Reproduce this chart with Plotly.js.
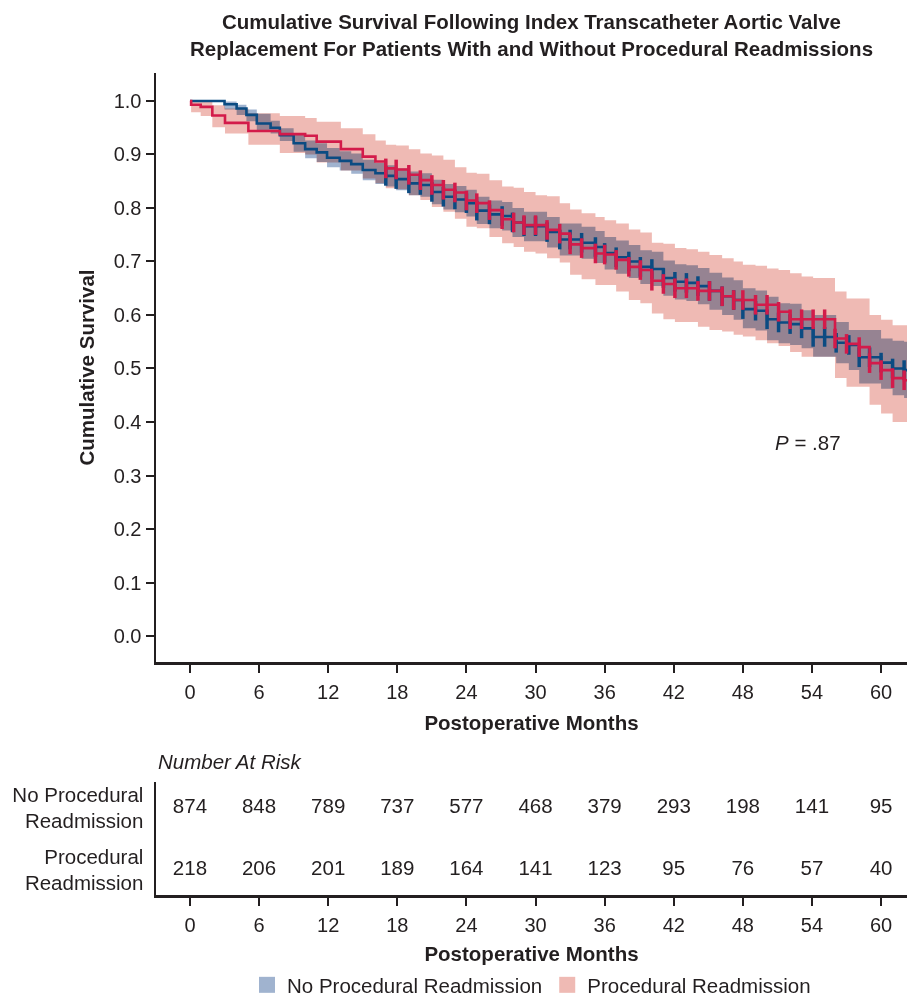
<!DOCTYPE html>
<html>
<head>
<meta charset="utf-8">
<script src="https://cdn.plot.ly/plotly-3.0.1.min.js"></script>
<style>
  html, body { margin: 0; padding: 0; background: #fff; }
  #chart { width: 907px; height: 999px; }
  .js-fill { mix-blend-mode: multiply; }
</style>
</head>
<body>
<div id="chart"></div>
<script>
// ---- No Procedural Readmission (Kaplan-Meier step data) ----
var noTimes = [0, 3.0, 4.05, 4.9, 5.8, 7.0, 7.8, 9.0, 10.0, 11.0, 11.9, 13.0, 14.0, 15.0, 16.1, 17.0, 17.9, 19.0, 20.0, 21.0, 22.0, 23.0, 24.0, 24.9, 26.0, 27.1, 28.0, 29.0, 31.0, 32.1, 34.0, 35.2, 36.0, 37.0, 38.1, 39.1, 40.1, 41.1, 42.1, 43.1, 44.1, 45.1, 46.2, 47.2, 48.0, 49.1, 50.1, 51.1, 52.1, 53.1, 54.1, 56.1, 57.2, 58.1, 60.0, 61.0, 62.0, 62.5];
var noSurv  = [1.000, 0.994, 0.986, 0.974, 0.958, 0.950, 0.936, 0.921, 0.910, 0.904, 0.894, 0.888, 0.882, 0.871, 0.865, 0.860, 0.854, 0.846, 0.843, 0.830, 0.821, 0.816, 0.809, 0.795, 0.788, 0.785, 0.773, 0.766, 0.755, 0.741, 0.735, 0.727, 0.716, 0.708, 0.700, 0.690, 0.686, 0.669, 0.662, 0.660, 0.654, 0.645, 0.635, 0.628, 0.611, 0.608, 0.592, 0.586, 0.583, 0.575, 0.559, 0.548, 0.544, 0.521, 0.511, 0.500, 0.497, 0.497];
var noLower = [1.000, 0.984, 0.974, 0.962, 0.945, 0.939, 0.925, 0.905, 0.893, 0.886, 0.876, 0.870, 0.864, 0.852, 0.845, 0.840, 0.833, 0.824, 0.821, 0.807, 0.797, 0.792, 0.784, 0.770, 0.762, 0.758, 0.746, 0.738, 0.726, 0.711, 0.705, 0.697, 0.685, 0.677, 0.669, 0.658, 0.654, 0.636, 0.629, 0.626, 0.620, 0.610, 0.600, 0.591, 0.575, 0.571, 0.553, 0.547, 0.544, 0.538, 0.522, 0.510, 0.497, 0.472, 0.462, 0.450, 0.445, 0.445];
var noUpper = [1.000, 0.999, 0.993, 0.984, 0.976, 0.963, 0.949, 0.937, 0.926, 0.921, 0.912, 0.906, 0.902, 0.890, 0.884, 0.880, 0.874, 0.868, 0.865, 0.853, 0.845, 0.841, 0.834, 0.821, 0.814, 0.811, 0.800, 0.793, 0.783, 0.771, 0.765, 0.757, 0.746, 0.739, 0.731, 0.721, 0.718, 0.702, 0.695, 0.693, 0.688, 0.679, 0.670, 0.665, 0.650, 0.646, 0.634, 0.622, 0.621, 0.609, 0.600, 0.587, 0.572, 0.572, 0.556, 0.552, 0.550, 0.550];
var noCensor = [17.0, 17.9, 19.0, 20.0, 21.0, 22.0, 23.0, 24.0, 24.9, 26.0, 27.1, 28.0, 29.0, 30.0, 31.0, 32.1, 33.0, 34.0, 35.2, 36.0, 37.0, 38.1, 39.1, 40.1, 41.1, 42.1, 43.1, 44.1, 45.1, 46.2, 47.2, 48.0, 49.1, 50.1, 51.1, 52.1, 53.1, 54.1, 55.1, 56.1, 57.2, 58.1, 59.0, 60.0, 61.0, 62.0];

// ---- Procedural Readmission ----
var prTimes = [0, 0.1, 0.93, 1.94, 3.04, 5.07, 7.8, 10.0, 11.0, 13.1, 15.0, 16.1, 17.0, 17.9, 19.0, 20.0, 21.0, 22.0, 23.0, 24.0, 24.9, 26.0, 27.1, 28.1, 29.0, 30.0, 31.0, 32.1, 33.0, 34.0, 35.2, 36.0, 37.0, 38.1, 39.1, 40.1, 41.1, 42.1, 43.1, 44.1, 45.1, 46.2, 47.2, 48.0, 49.1, 50.1, 51.1, 52.1, 53.1, 54.1, 56.0, 57.0, 58.1, 59.0, 60.0, 61.0, 62.0, 62.5];
var prSurv  = [1.000, 0.993, 0.989, 0.973, 0.959, 0.944, 0.938, 0.935, 0.924, 0.910, 0.896, 0.887, 0.874, 0.872, 0.862, 0.852, 0.843, 0.834, 0.829, 0.814, 0.809, 0.796, 0.779, 0.773, 0.768, 0.768, 0.759, 0.752, 0.732, 0.725, 0.715, 0.713, 0.703, 0.690, 0.684, 0.664, 0.658, 0.650, 0.650, 0.645, 0.645, 0.635, 0.628, 0.628, 0.619, 0.619, 0.606, 0.592, 0.592, 0.592, 0.556, 0.546, 0.540, 0.510, 0.497, 0.482, 0.478, 0.478];
var prLower = [1.000, 0.979, 0.972, 0.951, 0.939, 0.918, 0.903, 0.900, 0.885, 0.870, 0.855, 0.846, 0.837, 0.835, 0.824, 0.815, 0.802, 0.793, 0.780, 0.765, 0.762, 0.746, 0.734, 0.727, 0.718, 0.715, 0.706, 0.698, 0.675, 0.667, 0.656, 0.656, 0.644, 0.628, 0.622, 0.603, 0.592, 0.587, 0.587, 0.578, 0.572, 0.569, 0.563, 0.560, 0.553, 0.547, 0.542, 0.531, 0.522, 0.522, 0.482, 0.466, 0.466, 0.432, 0.416, 0.400, 0.400, 0.400];
var prUpper = [1.000, 1.000, 0.998, 0.992, 0.986, 0.977, 0.972, 0.968, 0.961, 0.949, 0.938, 0.926, 0.918, 0.917, 0.910, 0.902, 0.898, 0.890, 0.876, 0.866, 0.864, 0.852, 0.840, 0.838, 0.830, 0.824, 0.822, 0.809, 0.797, 0.790, 0.783, 0.777, 0.771, 0.760, 0.754, 0.735, 0.733, 0.725, 0.723, 0.718, 0.712, 0.706, 0.700, 0.694, 0.692, 0.687, 0.684, 0.678, 0.672, 0.669, 0.644, 0.631, 0.631, 0.600, 0.591, 0.581, 0.581, 0.581];
var prCensor = [17.0, 17.9, 19.0, 20.0, 21.0, 22.0, 23.0, 24.0, 24.9, 26.0, 27.1, 28.1, 29.0, 30.0, 31.0, 32.1, 33.0, 34.0, 35.2, 36.0, 37.0, 38.1, 39.1, 40.1, 41.1, 42.1, 43.1, 44.1, 45.1, 46.2, 47.2, 48.0, 49.1, 50.1, 51.1, 52.1, 53.1, 54.1, 55.1, 56.0, 57.0, 58.1, 59.0, 60.0, 61.0, 62.0];

// ---- Number at risk table ----
var riskMonths = [0, 6, 12, 18, 24, 30, 36, 42, 48, 54, 60];
var riskNo = [874, 848, 789, 737, 577, 468, 379, 293, 198, 141, 95];
var riskPr = [218, 206, 201, 189, 164, 141, 123, 95, 76, 57, 40];
var groupNames = ['No Procedural Readmission', 'Procedural Readmission'];
var rowLabels = ['Procedural<br>Readmission', 'No Procedural<br>Readmission'];
var yTicks = [0, 0.1, 0.2, 0.3, 0.4, 0.5, 0.6, 0.7, 0.8, 0.9, 1.0];
var pText = '<i>P</i> = .87';

// ---- styling ----
var FONT = '"Liberation Sans", Arial, Helvetica, sans-serif';
var TXT = '#231f20';
var BLUE = '#0b4b82', RED = '#d31b4a';
var BLUE_BAND = '#a0b3cf', RED_BAND = '#efbab4';

function stepAt(times, vals, t) {
  var v = vals[0];
  for (var i = 0; i < times.length; i++) { if (times[i] <= t + 1e-9) v = vals[i]; }
  return v;
}

var traces = [];
// bands
traces.push({x: noTimes, y: noLower, mode: 'lines', line: {width: 0, shape: 'hv'}, showlegend: false, hoverinfo: 'skip'});
traces.push({x: noTimes, y: noUpper, mode: 'lines', line: {width: 0, shape: 'hv'}, fill: 'tonexty', fillcolor: BLUE_BAND, showlegend: false, hoverinfo: 'skip'});
traces.push({x: prTimes, y: prLower, mode: 'lines', line: {width: 0, shape: 'hv'}, showlegend: false, hoverinfo: 'skip'});
traces.push({x: prTimes, y: prUpper, mode: 'lines', line: {width: 0, shape: 'hv'}, fill: 'tonexty', fillcolor: RED_BAND, showlegend: false, hoverinfo: 'skip'});
// blue curve + censor ticks
traces.push({x: noTimes, y: noSurv, mode: 'lines', line: {color: BLUE, width: 2.6, shape: 'hv'}, showlegend: false});
traces.push({x: noCensor, y: noCensor.map(function(t){return stepAt(noTimes, noSurv, t);}), mode: 'markers',
  marker: {symbol: 'line-ns', size: 14, line: {color: BLUE, width: 3.5}}, showlegend: false});
// red curve + censor ticks
traces.push({x: prTimes, y: prSurv, mode: 'lines', line: {color: RED, width: 2.6, shape: 'hv'}, showlegend: false});
traces.push({x: prCensor, y: prCensor.map(function(t){return stepAt(prTimes, prSurv, t);}), mode: 'markers',
  marker: {symbol: 'line-ns', size: 14, line: {color: RED, width: 3.5}}, showlegend: false});
// legend entries
traces.push({x: [null], y: [null], mode: 'markers', name: groupNames[0], marker: {symbol: 'square', size: 20, color: BLUE_BAND}, showlegend: true});
traces.push({x: [null], y: [null], mode: 'markers', name: groupNames[1], marker: {symbol: 'square', size: 20, color: RED_BAND}, showlegend: true});
// risk table
traces.push({x: riskMonths, y: riskMonths.map(function(){return 1;}), text: riskNo.map(String), mode: 'text',
  textfont: {family: FONT, size: 20.5, color: TXT}, xaxis: 'x2', yaxis: 'y2', showlegend: false, hoverinfo: 'skip'});
traces.push({x: riskMonths, y: riskMonths.map(function(){return 0;}), text: riskPr.map(String), mode: 'text',
  textfont: {family: FONT, size: 20.5, color: TXT}, xaxis: 'x2', yaxis: 'y2', showlegend: false, hoverinfo: 'skip'});

var axisCommon = {
  showline: true, linewidth: 2.5, linecolor: TXT, zeroline: false, showgrid: false,
  ticks: 'outside', ticklen: 8, tickwidth: 2, tickcolor: TXT,
  tickfont: {family: FONT, size: 20, color: TXT}
};

var layout = {
  width: 907, height: 999,
  margin: {l: 156, r: 0, t: 73, b: 104, autoexpand: false},
  paper_bgcolor: '#fff', plot_bgcolor: 'rgba(0,0,0,0)',
  font: {family: FONT, color: TXT, size: 20},
  title: {
    text: 'Cumulative Survival Following Index Transcatheter Aortic Valve<br>Replacement For Patients With and Without Procedural Readmissions',
    font: {family: FONT, size: 20.5, weight: 700, color: TXT},
    x: 0.5, xref: 'paper', xanchor: 'center', y: 1 - 29 / 999, yref: 'container', yanchor: 'middle'
  },
  xaxis: Object.assign({}, axisCommon, {
    domain: [0, 1], anchor: 'y', range: [-2.95, 62.25], tickvals: riskMonths, ticklabelstandoff: 2,
    title: {text: 'Postoperative Months', font: {family: FONT, size: 20.5, weight: 700, color: TXT}, standoff: 14}
  }),
  yaxis: Object.assign({}, axisCommon, {
    domain: [0.28345, 1], anchor: 'x', range: [-0.0486, 1.0523], tickvals: yTicks, tickformat: '.1f',
    title: {text: 'Cumulative Survival', font: {family: FONT, size: 20.5, weight: 700, color: TXT}, standoff: 14}
  }),
  xaxis2: Object.assign({}, axisCommon, {
    domain: [0, 1], anchor: 'y2', range: [-2.95, 62.25], tickvals: riskMonths, ticklabelstandoff: 2,
    title: {text: 'Postoperative Months', font: {family: FONT, size: 20.5, weight: 700, color: TXT}, standoff: 12}
  }),
  yaxis2: {
    domain: [0, 0.1375], anchor: 'x2', range: [-0.403, 1.419],
    showline: true, linewidth: 2.5, linecolor: TXT, zeroline: false, showgrid: false,
    ticks: '', tickvals: [0, 1], ticktext: rowLabels, ticklabelstandoff: 6,
    tickfont: {family: FONT, size: 20.5, color: TXT}
  },
  showlegend: true,
  legend: {
    orientation: 'h', traceorder: 'normal', x: 0.5, xanchor: 'center', xref: 'paper', y: (895 - 985) / 822, yanchor: 'middle', yref: 'paper',
    font: {family: FONT, size: 20.5, color: TXT}, itemwidth: 30, tracegroupgap: 0, bgcolor: 'rgba(0,0,0,0)'
  },
  annotations: [
    {text: pText, x: 50.6, y: 0.361, xref: 'x', yref: 'y', xanchor: 'left', yanchor: 'middle', showarrow: false,
     font: {family: FONT, size: 20.5, color: TXT}},
    {text: '<i>Number At Risk</i>', x: 0, y: (895 - 761) / 822, xref: 'paper', yref: 'paper', xanchor: 'left', yanchor: 'middle',
     showarrow: false, font: {family: FONT, size: 20.5, color: TXT}}
  ]
};

Plotly.newPlot('chart', traces, layout, {displayModeBar: false, staticPlot: true});
</script>
</body>
</html>
